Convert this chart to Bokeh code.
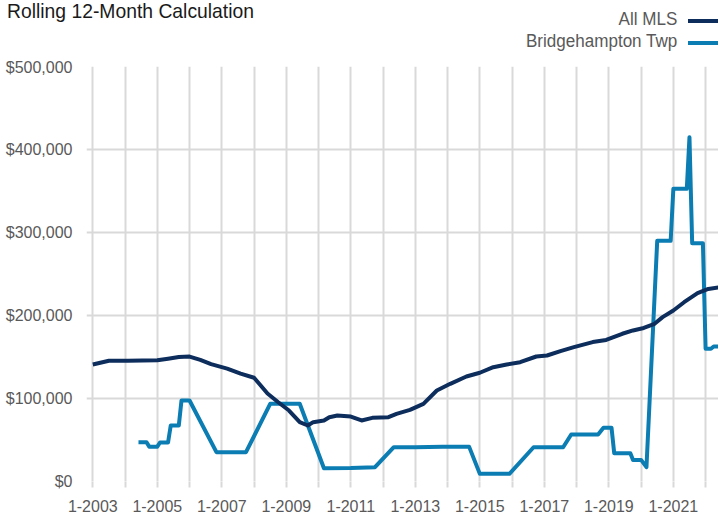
from bokeh.plotting import figure
from bokeh.models import FixedTicker, NumeralTickFormatter, Range1d, Div
from bokeh.layouts import column
from bokeh.embed import file_html
from bokeh.resources import INLINE

# ---- data (vertices of the rolling 12-month lines) ----
mls_dates = ["2003-01", "2003-07", "2004-02", "2005-01", "2005-05", "2005-09", "2006-01",
             "2006-05", "2006-09", "2007-03", "2007-08", "2008-01", "2008-03", "2008-06",
             "2008-10", "2009-02", "2009-06", "2009-09", "2009-11", "2010-03", "2010-05",
             "2010-08", "2011-01", "2011-05", "2011-09", "2012-03", "2012-06", "2012-11",
             "2013-04", "2013-09", "2014-02", "2014-08", "2015-01", "2015-06", "2015-11",
             "2016-04", "2016-10", "2017-02", "2017-07", "2017-12", "2018-07", "2018-12",
             "2019-02", "2019-06", "2019-10", "2020-02", "2020-06", "2020-09", "2021-01",
             "2021-05", "2021-10", "2022-02", "2022-06"]
mls_values = [141000, 145500, 145500, 146000, 148000, 150000, 150500,
              146500, 141500, 136000, 130000, 125000, 117500, 106000,
              95500, 85500, 71500, 67500, 71500, 73500, 77500,
              79500, 78300, 73500, 76700, 77500, 81500, 86300,
              93600, 109600, 117700, 126500, 131000, 137700, 141000,
              143700, 150600, 151800, 157000, 161800, 168000, 170500,
              173000, 178000, 182000, 185000, 190000, 198000, 206000,
              216000, 227000, 232000, 234000]

bh_dates = ["2004-06", "2004-09", "2004-10", "2005-01", "2005-02", "2005-05", "2005-06",
            "2005-09", "2005-10", "2006-01", "2006-11", "2007-10", "2008-07", "2009-06",
            "2010-03", "2011-01", "2011-10", "2012-05", "2013-01", "2013-11", "2014-09",
            "2015-01", "2015-12", "2016-09", "2017-08", "2017-11", "2018-09", "2018-11",
            "2019-02", "2019-03", "2019-09", "2019-10", "2020-01", "2020-03", "2020-07",
            "2020-12", "2021-01", "2021-06", "2021-07", "2021-08", "2021-12", "2022-01",
            "2022-03", "2022-04", "2022-06"]
bh_values = [47400, 47400, 42000, 42000, 47000, 47000, 67500,
             67500, 97600, 97600, 35300, 35300, 93600, 93600,
             16000, 16300, 17300, 41300, 41300, 42000, 42000,
             9200, 9200, 41300, 41300, 56600, 56600, 64700,
             64700, 34000, 34000, 26000, 26000, 17300, 290000,
             290000, 352600, 352600, 414800, 287000, 287000, 160000,
             160000, 162600, 162600]

year_ticks = list(range(2003, 2023))
tick_labels = {yr: (f"1-{yr}" if yr % 2 == 1 else "") for yr in year_ticks}
y_ticks = [0, 100000, 200000, 300000, 400000, 500000]

chart_title = "Rolling 12-Month Calculation"
series_names = ["All MLS", "Bridgehampton Twp"]
series_colors = ["#0d2d5c", "#0b7db2"]


def to_year(d):
    y, m = d.split("-")
    return int(y) + (int(m) - 1) / 12.0


FONT = "Liberation Sans"
GRID = "#d9d9d9"
TXT = "#595959"
W = 718

# ---- header: title and legend (text left of its line swatch) ----
legend_html = ""
for i, (name, col) in enumerate(zip(series_names, series_colors)):
    legend_html += (
        f'<div style="position:absolute;right:41px;top:{11 + 22 * i}px;font-size:17.5px;'
        f'line-height:17.5px;color:{TXT};white-space:nowrap;transform:scaleX(0.975);'
        f'transform-origin:100% 0;">{name}</div>'
        f'<div style="position:absolute;right:0px;width:30px;top:{19 + 22 * i}px;height:4px;'
        f'background:{col};"></div>'
    )
header_html = (
    f'<div style="position:relative;width:{W}px;height:58px;font-family:\'{FONT}\',sans-serif;">'
    f'<div style="position:absolute;left:7px;top:0px;font-size:21px;line-height:21px;color:#1a1a1a;'
    f'white-space:nowrap;transform:scaleX(0.92);transform-origin:0 0;">{chart_title}</div>'
    f'{legend_html}</div>'
)
header = Div(text=header_html, width=W, height=58, margin=0, styles={"overflow": "visible"})

# ---- chart ----
p = figure(width=W, height=457, output_backend="svg", toolbar_location=None,
           x_range=Range1d(2002.805, 2022.40), y_range=Range1d(0, 500000),
           min_border_left=86, min_border_right=0, min_border_top=8, min_border_bottom=34,
           margin=0)
p.outline_line_color = None
p.background_fill_color = "white"
p.border_fill_color = "white"

p.xaxis.ticker = FixedTicker(ticks=year_ticks)
p.xaxis.major_label_overrides = tick_labels
p.xaxis.axis_line_color = None
p.xaxis.major_tick_out = 6
p.xaxis.major_tick_in = 0
p.xaxis.major_tick_line_color = GRID
p.xaxis.major_tick_line_width = 2
p.xaxis.minor_tick_line_color = None
p.xaxis.major_label_standoff = 12
p.xaxis.major_label_text_font = FONT
p.xaxis.major_label_text_font_size = "16px"
p.xaxis.major_label_text_color = TXT

p.yaxis.ticker = FixedTicker(ticks=y_ticks)
p.yaxis.formatter = NumeralTickFormatter(format="$0,0")
p.yaxis.axis_line_color = None
p.yaxis.major_tick_out = 0
p.yaxis.major_tick_in = 0
p.yaxis.major_tick_line_color = None
p.yaxis.minor_tick_line_color = None
p.yaxis.major_label_standoff = 14
p.yaxis.major_label_text_font = FONT
p.yaxis.major_label_text_font_size = "16px"
p.yaxis.major_label_text_color = TXT

p.xgrid.ticker = FixedTicker(ticks=year_ticks)
p.ygrid.ticker = FixedTicker(ticks=y_ticks)
for g in (p.xgrid, p.ygrid):
    g.grid_line_color = GRID
    g.grid_line_width = 2

p.line([to_year(d) for d in bh_dates], bh_values, line_color=series_colors[1], line_width=4,
       line_join="round")
p.line([to_year(d) for d in mls_dates], mls_values, line_color=series_colors[0], line_width=4,
       line_join="round")

layout = column(header, p, spacing=0, margin=0)
open("out.html", "w").write(file_html(layout, INLINE))
